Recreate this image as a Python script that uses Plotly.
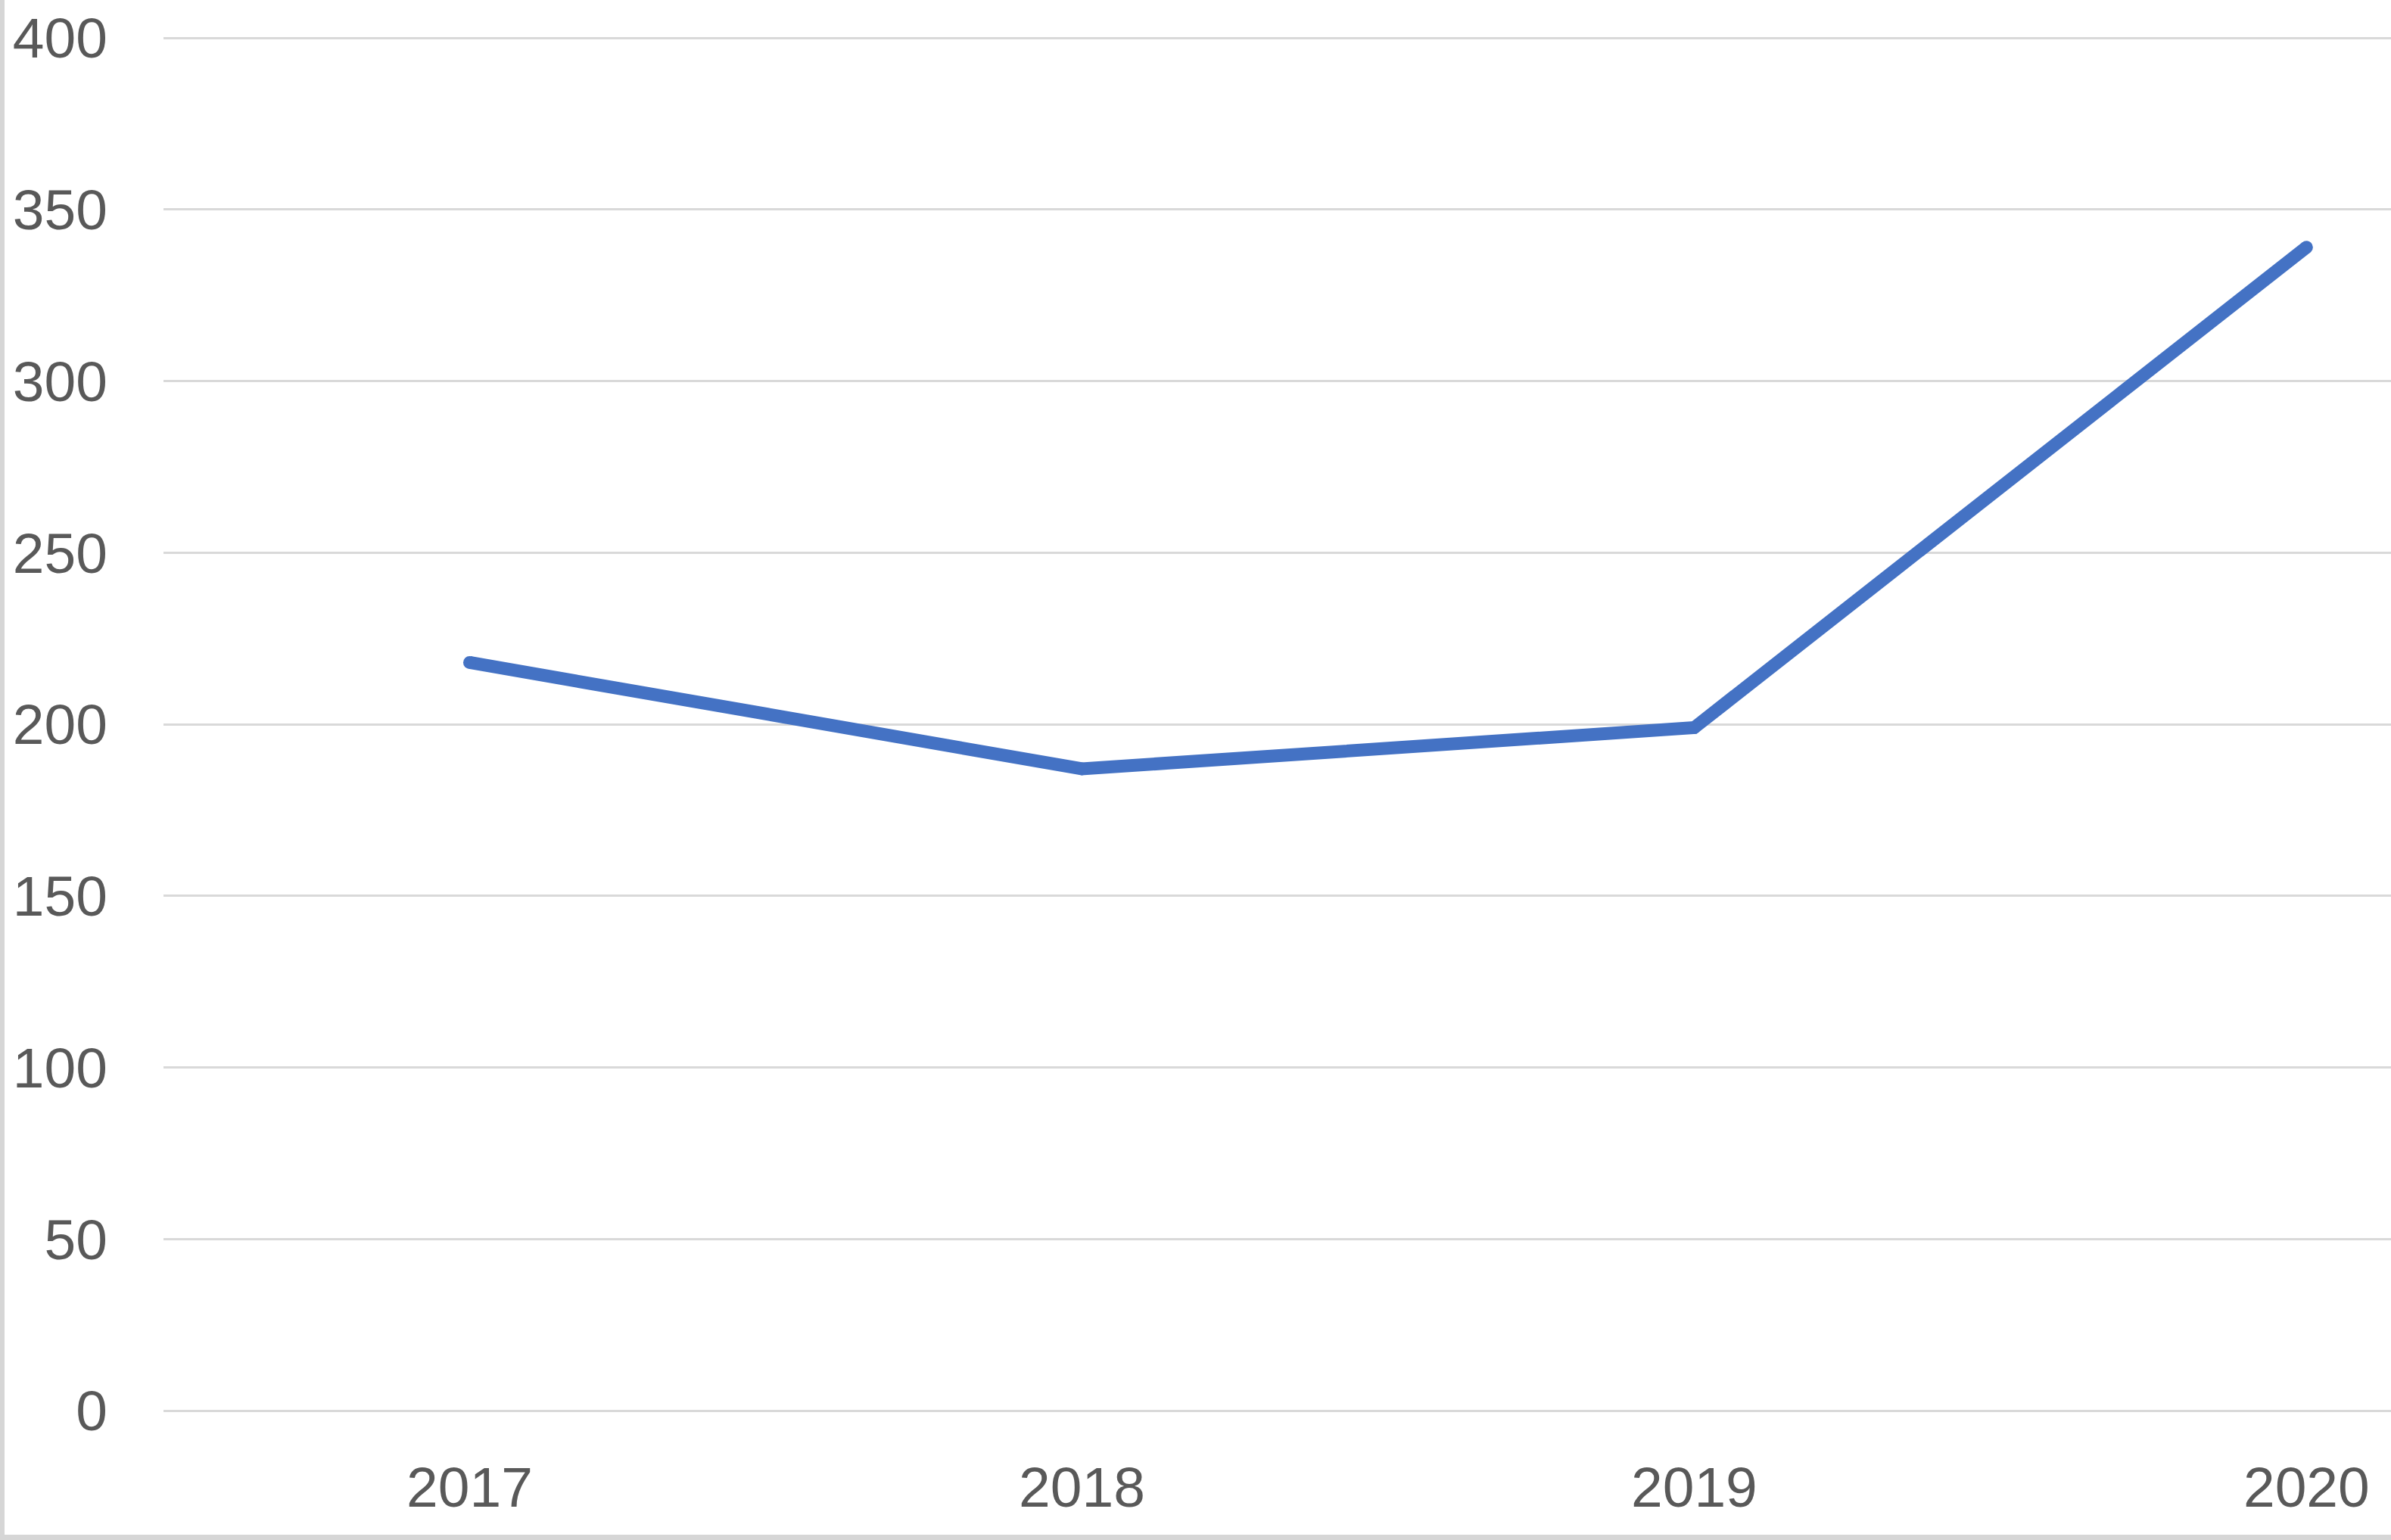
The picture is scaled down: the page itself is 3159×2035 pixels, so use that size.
import plotly.graph_objects as go

# Values
years = ["2017", "2018", "2019", "2020"]
values = [218, 187, 199, 339]
y_ticks = [0, 50, 100, 150, 200, 250, 300, 350, 400]

LINE_BLUE = "#4472C4"
GRID = "#D9D9D9"
TEXT = "#595959"
BORDER = "#D6D6D6"

W, H = 3159, 2035
M_L, M_R, M_T, M_B = 216, 0, 41, 171
plot_w = W - M_L - M_R
plot_h = H - M_T - M_B
LINE_W = 17

fig = go.Figure()

# markers the size of the stroke give the round caps seen in the reference
fig.add_trace(
    go.Scatter(
        x=years,
        y=values,
        mode="lines+markers",
        line=dict(color=LINE_BLUE, width=LINE_W),
        marker=dict(color=LINE_BLUE, size=LINE_W, line_width=0),
        showlegend=False,
        hoverinfo="x+y",
    )
)

# Outer gray frame on the left and bottom edges (image is a cropped chart)
fig.add_shape(
    type="rect", xref="paper", yref="paper",
    x0=-M_L / plot_w, x1=(-M_L + 6) / plot_w,
    y0=-M_B / plot_h, y1=(plot_h + M_T) / plot_h,
    fillcolor=BORDER, line_width=0, layer="below",
)
fig.add_shape(
    type="rect", xref="paper", yref="paper",
    x0=-M_L / plot_w, x1=1,
    y0=-M_B / plot_h, y1=(-M_B + 7) / plot_h,
    fillcolor=BORDER, line_width=0, layer="below",
)

fig.update_layout(
    width=W,
    height=H,
    margin=dict(l=M_L, r=M_R, t=M_T, b=M_B, pad=0),
    paper_bgcolor="white",
    plot_bgcolor="white",
    font=dict(family="Liberation Sans", size=75, color=TEXT),
)

fig.update_xaxes(
    type="category",
    range=[-0.5, 3.138],
    showgrid=False,
    showline=False,
    zeroline=False,
    ticks="",
    ticklabelstandoff=51,
)
# range runs a little past 400 so the top grid line is not dropped at the edge
fig.update_yaxes(
    range=[0, 402],
    tickvals=y_ticks,
    showgrid=True,
    gridcolor=GRID,
    gridwidth=3,
    zeroline=True,
    zerolinecolor=GRID,
    zerolinewidth=3,
    showline=False,
    ticks="",
    ticklabelstandoff=73,
)

fig.write_html(
    "out.html",
    config={"displayModeBar": False},
    post_script="document.body.style.margin='0';",
)
